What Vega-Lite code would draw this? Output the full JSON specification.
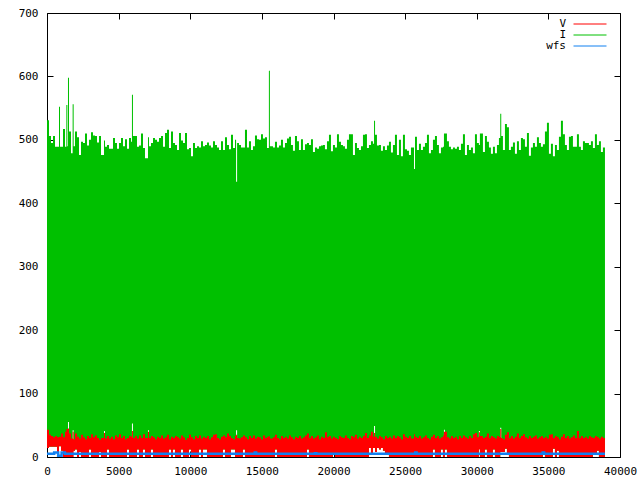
{"$schema":"https://vega.github.io/schema/vega-lite/v6.json","width":573,"height":444,"autosize":{"type":"none"},"padding":{"left":47,"top":13,"right":20,"bottom":23},"background":"white","config":{"view":{"stroke":"black","strokeWidth":1},"font":"DejaVu Sans Mono"},
"datasets":{"main":[
{"x":0,"i":531,"v":43,"lo":14,"g":14},{"x":140,"i":506,"v":35,"lo":16,"g":16},{"x":279,"i":495,"v":33,"lo":16,"g":16},{"x":419,"i":506,"v":31,"lo":16,"g":16},{"x":558,"i":489,"v":33,"lo":16,"g":16},{"x":698,"i":489,"v":31,"lo":5,"g":5},{"x":838,"i":552,"v":32,"lo":17,"g":17},{"x":908,"i":489,"v":32,"lo":17,"g":17},{"x":977,"i":489,"v":37,"lo":10,"g":10},{"x":1117,"i":517,"v":31,"lo":0,"g":0},{"x":1256,"i":489,"v":40,"lo":0,"g":0},{"x":1350,"i":555,"v":44,"lo":0,"g":0},{"x":1420,"i":490,"v":44,"lo":0,"g":0},{"x":1465,"i":598,"v":45,"lo":0,"g":55},{"x":1535,"i":513,"v":37,"lo":0,"g":0},{"x":1675,"i":479,"v":29,"lo":0,"g":0},{"x":1790,"i":556,"v":40,"lo":0,"g":42},{"x":1860,"i":490,"v":28,"lo":10,"g":10},{"x":1954,"i":513,"v":37,"lo":12,"g":12},{"x":2094,"i":504,"v":32,"lo":0,"g":0},{"x":2234,"i":476,"v":29,"lo":8,"g":8},{"x":2373,"i":497,"v":35,"lo":0,"g":0},{"x":2513,"i":495,"v":31,"lo":0,"g":0},{"x":2652,"i":510,"v":28,"lo":0,"g":0},{"x":2792,"i":491,"v":33,"lo":0,"g":0},{"x":2932,"i":500,"v":30,"lo":12,"g":12},{"x":3071,"i":512,"v":36,"lo":0,"g":0},{"x":3211,"i":507,"v":31,"lo":0,"g":0},{"x":3350,"i":506,"v":34,"lo":0,"g":0},{"x":3490,"i":496,"v":30,"lo":0,"g":0},{"x":3630,"i":506,"v":27,"lo":8,"g":8},{"x":3769,"i":476,"v":30,"lo":0,"g":0},{"x":3980,"i":499,"v":38,"lo":0,"g":41},{"x":4050,"i":489,"v":29,"lo":0,"g":0},{"x":4188,"i":492,"v":33,"lo":12,"g":12},{"x":4328,"i":486,"v":29,"lo":0,"g":0},{"x":4467,"i":486,"v":32,"lo":0,"g":0},{"x":4607,"i":503,"v":28,"lo":0,"g":0},{"x":4746,"i":495,"v":34,"lo":0,"g":0},{"x":4886,"i":486,"v":31,"lo":0,"g":0},{"x":5025,"i":495,"v":36,"lo":0,"g":0},{"x":5165,"i":503,"v":30,"lo":0,"g":0},{"x":5304,"i":490,"v":33,"lo":0,"g":0},{"x":5444,"i":501,"v":28,"lo":0,"g":0},{"x":5584,"i":486,"v":30,"lo":12,"g":12},{"x":5723,"i":503,"v":33,"lo":0,"g":0},{"x":5863,"i":497,"v":32,"lo":0,"g":0},{"x":5930,"i":571,"v":41,"lo":0,"g":53},{"x":6000,"i":506,"v":30,"lo":0,"g":0},{"x":6142,"i":506,"v":33,"lo":0,"g":0},{"x":6282,"i":489,"v":29,"lo":12,"g":12},{"x":6421,"i":491,"v":34,"lo":0,"g":0},{"x":6561,"i":510,"v":30,"lo":0,"g":0},{"x":6701,"i":487,"v":36,"lo":12,"g":12},{"x":6840,"i":471,"v":30,"lo":0,"g":0},{"x":7050,"i":504,"v":40,"lo":0,"g":42},{"x":7120,"i":490,"v":30,"lo":0,"g":0},{"x":7259,"i":495,"v":33,"lo":12,"g":12},{"x":7399,"i":503,"v":31,"lo":0,"g":0},{"x":7538,"i":500,"v":28,"lo":0,"g":0},{"x":7678,"i":497,"v":32,"lo":0,"g":0},{"x":7818,"i":503,"v":30,"lo":0,"g":0},{"x":7957,"i":506,"v":34,"lo":0,"g":0},{"x":8097,"i":489,"v":29,"lo":0,"g":0},{"x":8236,"i":511,"v":31,"lo":0,"g":0},{"x":8376,"i":516,"v":35,"lo":0,"g":0},{"x":8516,"i":487,"v":28,"lo":12,"g":12},{"x":8655,"i":513,"v":32,"lo":0,"g":0},{"x":8795,"i":495,"v":30,"lo":12,"g":12},{"x":8934,"i":492,"v":33,"lo":0,"g":0},{"x":9074,"i":484,"v":31,"lo":0,"g":0},{"x":9214,"i":511,"v":29,"lo":0,"g":0},{"x":9353,"i":499,"v":34,"lo":12,"g":12},{"x":9493,"i":495,"v":31,"lo":0,"g":0},{"x":9632,"i":511,"v":27,"lo":0,"g":0},{"x":9772,"i":485,"v":30,"lo":0,"g":0},{"x":9912,"i":487,"v":35,"lo":12,"g":12},{"x":10051,"i":474,"v":31,"lo":0,"g":0},{"x":10191,"i":495,"v":28,"lo":0,"g":0},{"x":10330,"i":487,"v":33,"lo":0,"g":0},{"x":10470,"i":490,"v":30,"lo":0,"g":0},{"x":10610,"i":488,"v":34,"lo":12,"g":12},{"x":10749,"i":498,"v":29,"lo":0,"g":0},{"x":10889,"i":490,"v":32,"lo":12,"g":12},{"x":11028,"i":492,"v":30,"lo":12,"g":12},{"x":11168,"i":496,"v":33,"lo":0,"g":0},{"x":11308,"i":491,"v":28,"lo":0,"g":0},{"x":11447,"i":488,"v":31,"lo":0,"g":0},{"x":11587,"i":498,"v":35,"lo":0,"g":0},{"x":11726,"i":492,"v":36,"lo":0,"g":0},{"x":11866,"i":488,"v":30,"lo":0,"g":0},{"x":12006,"i":484,"v":28,"lo":0,"g":0},{"x":12145,"i":498,"v":32,"lo":0,"g":0},{"x":12285,"i":484,"v":34,"lo":12,"g":12},{"x":12424,"i":504,"v":31,"lo":0,"g":0},{"x":12564,"i":492,"v":37,"lo":0,"g":0},{"x":12704,"i":485,"v":33,"lo":0,"g":0},{"x":12843,"i":508,"v":30,"lo":12,"g":12},{"x":12983,"i":487,"v":28,"lo":12,"g":12},{"x":13123,"i":500,"v":33,"lo":0,"g":0},{"x":13200,"i":434,"v":35,"lo":0,"g":42},{"x":13270,"i":495,"v":30,"lo":0,"g":0},{"x":13401,"i":492,"v":29,"lo":0,"g":0},{"x":13541,"i":488,"v":31,"lo":0,"g":0},{"x":13680,"i":488,"v":34,"lo":12,"g":12},{"x":13820,"i":516,"v":31,"lo":0,"g":0},{"x":13960,"i":488,"v":28,"lo":0,"g":0},{"x":14099,"i":498,"v":33,"lo":0,"g":0},{"x":14239,"i":484,"v":30,"lo":0,"g":0},{"x":14378,"i":490,"v":34,"lo":0,"g":0},{"x":14518,"i":507,"v":29,"lo":0,"g":0},{"x":14658,"i":501,"v":32,"lo":0,"g":0},{"x":14797,"i":500,"v":31,"lo":0,"g":0},{"x":14937,"i":509,"v":28,"lo":0,"g":0},{"x":15076,"i":502,"v":34,"lo":0,"g":0},{"x":15216,"i":504,"v":30,"lo":0,"g":0},{"x":15356,"i":487,"v":32,"lo":0,"g":0},{"x":15490,"i":609,"v":33,"lo":0,"g":0},{"x":15560,"i":490,"v":29,"lo":0,"g":0},{"x":15774,"i":488,"v":31,"lo":0,"g":0},{"x":15914,"i":497,"v":35,"lo":12,"g":12},{"x":16054,"i":488,"v":30,"lo":0,"g":0},{"x":16193,"i":491,"v":28,"lo":0,"g":0},{"x":16333,"i":500,"v":33,"lo":0,"g":0},{"x":16472,"i":488,"v":30,"lo":0,"g":0},{"x":16612,"i":495,"v":32,"lo":0,"g":0},{"x":16752,"i":502,"v":29,"lo":0,"g":0},{"x":16891,"i":505,"v":34,"lo":0,"g":0},{"x":17031,"i":492,"v":31,"lo":0,"g":0},{"x":17170,"i":483,"v":28,"lo":0,"g":0},{"x":17310,"i":506,"v":32,"lo":0,"g":0},{"x":17450,"i":498,"v":30,"lo":0,"g":0},{"x":17589,"i":484,"v":33,"lo":0,"g":0},{"x":17729,"i":501,"v":29,"lo":0,"g":0},{"x":17868,"i":484,"v":31,"lo":0,"g":0},{"x":18008,"i":493,"v":34,"lo":0,"g":0},{"x":18148,"i":495,"v":37,"lo":12,"g":12},{"x":18287,"i":492,"v":30,"lo":0,"g":0},{"x":18427,"i":501,"v":33,"lo":0,"g":0},{"x":18566,"i":481,"v":29,"lo":0,"g":0},{"x":18706,"i":488,"v":31,"lo":0,"g":0},{"x":18846,"i":486,"v":34,"lo":0,"g":0},{"x":18985,"i":490,"v":28,"lo":0,"g":0},{"x":19125,"i":491,"v":32,"lo":0,"g":0},{"x":19264,"i":492,"v":30,"lo":0,"g":0},{"x":19404,"i":485,"v":39,"lo":0,"g":0},{"x":19544,"i":498,"v":31,"lo":0,"g":0},{"x":19683,"i":508,"v":33,"lo":0,"g":0},{"x":19823,"i":482,"v":29,"lo":0,"g":0},{"x":19962,"i":492,"v":32,"lo":5,"g":5},{"x":20102,"i":488,"v":30,"lo":0,"g":0},{"x":20242,"i":509,"v":28,"lo":0,"g":0},{"x":20381,"i":497,"v":33,"lo":0,"g":0},{"x":20521,"i":492,"v":31,"lo":0,"g":0},{"x":20660,"i":490,"v":30,"lo":0,"g":0},{"x":20800,"i":486,"v":34,"lo":0,"g":0},{"x":20940,"i":500,"v":30,"lo":0,"g":0},{"x":21079,"i":509,"v":28,"lo":0,"g":0},{"x":21219,"i":509,"v":33,"lo":0,"g":0},{"x":21358,"i":476,"v":31,"lo":0,"g":0},{"x":21498,"i":495,"v":35,"lo":0,"g":0},{"x":21638,"i":487,"v":29,"lo":0,"g":0},{"x":21777,"i":484,"v":32,"lo":0,"g":0},{"x":21917,"i":490,"v":30,"lo":0,"g":0},{"x":22056,"i":508,"v":33,"lo":0,"g":0},{"x":22196,"i":509,"v":38,"lo":0,"g":0},{"x":22336,"i":487,"v":30,"lo":0,"g":0},{"x":22475,"i":492,"v":34,"lo":14,"g":14},{"x":22615,"i":498,"v":40,"lo":6,"g":6},{"x":22754,"i":494,"v":32,"lo":14,"g":14},{"x":22830,"i":530,"v":38,"lo":14,"g":49},{"x":22900,"i":508,"v":32,"lo":8,"g":8},{"x":23034,"i":491,"v":29,"lo":14,"g":14},{"x":23173,"i":492,"v":33,"lo":12,"g":12},{"x":23313,"i":483,"v":31,"lo":14,"g":14},{"x":23452,"i":490,"v":28,"lo":10,"g":10},{"x":23592,"i":484,"v":33,"lo":6,"g":6},{"x":23732,"i":491,"v":30,"lo":6,"g":6},{"x":23871,"i":497,"v":32,"lo":0,"g":0},{"x":24011,"i":480,"v":29,"lo":0,"g":0},{"x":24150,"i":492,"v":34,"lo":0,"g":0},{"x":24290,"i":508,"v":30,"lo":0,"g":0},{"x":24430,"i":476,"v":33,"lo":0,"g":0},{"x":24569,"i":500,"v":31,"lo":0,"g":0},{"x":24709,"i":474,"v":28,"lo":0,"g":0},{"x":24848,"i":508,"v":36,"lo":0,"g":0},{"x":24988,"i":485,"v":32,"lo":0,"g":0},{"x":25128,"i":483,"v":30,"lo":0,"g":0},{"x":25267,"i":476,"v":33,"lo":0,"g":0},{"x":25407,"i":488,"v":29,"lo":0,"g":0},{"x":25620,"i":454,"v":36,"lo":0,"g":0},{"x":25690,"i":505,"v":32,"lo":0,"g":0},{"x":25826,"i":484,"v":30,"lo":0,"g":0},{"x":25965,"i":494,"v":33,"lo":0,"g":0},{"x":26105,"i":484,"v":29,"lo":0,"g":0},{"x":26244,"i":489,"v":31,"lo":0,"g":0},{"x":26384,"i":495,"v":34,"lo":0,"g":0},{"x":26524,"i":508,"v":30,"lo":0,"g":0},{"x":26663,"i":479,"v":28,"lo":0,"g":0},{"x":26803,"i":484,"v":32,"lo":0,"g":0},{"x":26942,"i":500,"v":35,"lo":12,"g":12},{"x":27082,"i":506,"v":30,"lo":0,"g":0},{"x":27222,"i":492,"v":33,"lo":0,"g":0},{"x":27361,"i":479,"v":29,"lo":0,"g":0},{"x":27501,"i":488,"v":31,"lo":12,"g":12},{"x":27640,"i":489,"v":34,"lo":0,"g":0},{"x":27710,"i":510,"v":40,"lo":0,"g":43},{"x":27780,"i":510,"v":40,"lo":12,"g":12},{"x":27920,"i":498,"v":31,"lo":0,"g":0},{"x":28059,"i":489,"v":29,"lo":0,"g":0},{"x":28199,"i":485,"v":33,"lo":0,"g":0},{"x":28338,"i":488,"v":30,"lo":0,"g":0},{"x":28478,"i":486,"v":32,"lo":0,"g":0},{"x":28618,"i":489,"v":28,"lo":0,"g":0},{"x":28757,"i":484,"v":33,"lo":0,"g":0},{"x":28897,"i":494,"v":30,"lo":0,"g":0},{"x":29036,"i":509,"v":34,"lo":0,"g":0},{"x":29176,"i":476,"v":31,"lo":0,"g":0},{"x":29316,"i":492,"v":29,"lo":0,"g":0},{"x":29455,"i":484,"v":33,"lo":0,"g":0},{"x":29595,"i":488,"v":30,"lo":0,"g":0},{"x":29734,"i":479,"v":36,"lo":0,"g":0},{"x":29874,"i":509,"v":38,"lo":0,"g":0},{"x":30014,"i":495,"v":31,"lo":0,"g":0},{"x":30150,"i":492,"v":39,"lo":12,"g":41},{"x":30220,"i":510,"v":33,"lo":0,"g":0},{"x":30432,"i":481,"v":30,"lo":0,"g":0},{"x":30572,"i":506,"v":32,"lo":12,"g":12},{"x":30711,"i":497,"v":37,"lo":0,"g":0},{"x":30851,"i":488,"v":30,"lo":0,"g":0},{"x":30990,"i":478,"v":33,"lo":0,"g":0},{"x":31130,"i":489,"v":31,"lo":12,"g":12},{"x":31270,"i":479,"v":29,"lo":0,"g":0},{"x":31409,"i":492,"v":33,"lo":0,"g":0},{"x":31549,"i":503,"v":31,"lo":0,"g":0},{"x":31640,"i":541,"v":44,"lo":8,"g":46},{"x":31710,"i":506,"v":30,"lo":8,"g":8},{"x":31828,"i":484,"v":28,"lo":8,"g":8},{"x":31968,"i":525,"v":35,"lo":13,"g":13},{"x":32107,"i":520,"v":39,"lo":5,"g":5},{"x":32247,"i":484,"v":30,"lo":0,"g":0},{"x":32386,"i":489,"v":33,"lo":0,"g":0},{"x":32526,"i":496,"v":29,"lo":0,"g":0},{"x":32666,"i":478,"v":32,"lo":0,"g":0},{"x":32805,"i":498,"v":37,"lo":0,"g":0},{"x":32945,"i":484,"v":30,"lo":0,"g":0},{"x":33084,"i":503,"v":33,"lo":0,"g":0},{"x":33224,"i":501,"v":36,"lo":0,"g":0},{"x":33364,"i":489,"v":31,"lo":0,"g":0},{"x":33503,"i":511,"v":29,"lo":0,"g":0},{"x":33643,"i":475,"v":33,"lo":0,"g":0},{"x":33782,"i":488,"v":30,"lo":0,"g":0},{"x":33922,"i":495,"v":32,"lo":0,"g":0},{"x":34062,"i":489,"v":34,"lo":0,"g":0},{"x":34201,"i":504,"v":29,"lo":0,"g":0},{"x":34341,"i":495,"v":31,"lo":0,"g":0},{"x":34480,"i":489,"v":33,"lo":0,"g":0},{"x":34620,"i":493,"v":30,"lo":8,"g":8},{"x":34760,"i":513,"v":32,"lo":0,"g":0},{"x":34899,"i":527,"v":29,"lo":0,"g":0},{"x":35039,"i":478,"v":35,"lo":0,"g":0},{"x":35178,"i":494,"v":36,"lo":0,"g":0},{"x":35318,"i":474,"v":30,"lo":13,"g":13},{"x":35458,"i":492,"v":33,"lo":0,"g":0},{"x":35597,"i":484,"v":31,"lo":10,"g":10},{"x":35737,"i":505,"v":28,"lo":0,"g":0},{"x":35876,"i":530,"v":32,"lo":0,"g":0},{"x":36016,"i":509,"v":36,"lo":0,"g":0},{"x":36156,"i":492,"v":30,"lo":0,"g":0},{"x":36295,"i":484,"v":33,"lo":0,"g":0},{"x":36435,"i":505,"v":29,"lo":0,"g":0},{"x":36574,"i":506,"v":31,"lo":0,"g":0},{"x":36714,"i":489,"v":34,"lo":0,"g":0},{"x":36854,"i":489,"v":30,"lo":0,"g":0},{"x":36993,"i":509,"v":41,"lo":0,"g":0},{"x":37133,"i":489,"v":30,"lo":0,"g":0},{"x":37272,"i":484,"v":33,"lo":0,"g":0},{"x":37412,"i":498,"v":30,"lo":0,"g":0},{"x":37552,"i":495,"v":32,"lo":0,"g":0},{"x":37691,"i":495,"v":29,"lo":0,"g":0},{"x":37831,"i":492,"v":33,"lo":0,"g":0},{"x":37970,"i":498,"v":31,"lo":0,"g":0},{"x":38110,"i":487,"v":30,"lo":6,"g":6},{"x":38250,"i":509,"v":33,"lo":6,"g":6},{"x":38389,"i":492,"v":31,"lo":10,"g":10},{"x":38529,"i":498,"v":29,"lo":0,"g":0},{"x":38668,"i":481,"v":32,"lo":0,"g":0},{"x":38808,"i":488,"v":30,"lo":0,"g":0},{"x":38950,"i":497,"v":30,"lo":0,"g":0}
],"wfs":[
{"x":0,"w":5,"s":"wfs"},{"x":420,"w":5,"s":"wfs"},{"x":500,"w":7,"s":"wfs"},{"x":700,"w":7,"s":"wfs"},{"x":780,"w":2,"s":"wfs"},{"x":950,"w":2,"s":"wfs"},{"x":1020,"w":7,"s":"wfs"},{"x":1150,"w":7,"s":"wfs"},{"x":1250,"w":5,"s":"wfs"},{"x":14400,"w":5,"s":"wfs"},{"x":14500,"w":7,"s":"wfs"},{"x":14600,"w":5,"s":"wfs"},{"x":18600,"w":5,"s":"wfs"},{"x":18700,"w":6,"s":"wfs"},{"x":18800,"w":5,"s":"wfs"},{"x":25600,"w":5,"s":"wfs"},{"x":25700,"w":7,"s":"wfs"},{"x":25800,"w":5,"s":"wfs"},{"x":34500,"w":5,"s":"wfs"},{"x":34600,"w":7,"s":"wfs"},{"x":34700,"w":5,"s":"wfs"},{"x":38950,"w":5,"s":"wfs"}
]},
"layer":[
{"data":{"name":"main"},"mark":{"type":"area","interpolate":"step-after","color":"#00c000"},"encoding":{"x":{"field":"x","type":"quantitative","scale":{"domain":[0,40000],"nice":false},"axis":{"orient":"bottom","values":[0,5000,10000,15000,20000,25000,30000,35000,40000],"format":"d","title":null,"grid":false,"domain":false,"tickSize":-6,"tickColor":"black","labelFontSize":11,"labelFont":"DejaVu Sans Mono","labelColor":"black","labelPadding":14,"labelFlush":false}},"y":{"field":"i","type":"quantitative","scale":{"domain":[0,700],"nice":false},"axis":{"orient":"left","values":[0,100,200,300,400,500,600,700],"title":null,"grid":false,"domain":false,"tickSize":-6,"tickColor":"black","labelFontSize":11,"labelFont":"DejaVu Sans Mono","labelColor":"black","labelPadding":15}},"y2":{"field":"g"}}},
{"data":{"name":"main"},"mark":{"type":"area","interpolate":"step-after","color":"#ff0000"},"encoding":{"x":{"field":"x","type":"quantitative","axis":{"orient":"top","values":[0,5000,10000,15000,20000,25000,30000,35000,40000],"title":null,"grid":false,"domain":false,"labels":false,"tickSize":-6,"tickColor":"black"}},"y":{"field":"v","type":"quantitative","axis":{"orient":"right","values":[0,100,200,300,400,500,600,700],"title":null,"grid":false,"domain":false,"labels":false,"tickSize":-6,"tickColor":"black"}},"y2":{"field":"lo"}}},
{"data":{"name":"wfs"},"mark":{"type":"line","interpolate":"step-after","strokeWidth":2.5},"encoding":{"x":{"field":"x","type":"quantitative","axis":null},"y":{"field":"w","type":"quantitative","axis":null},"color":{"field":"s","type":"nominal","scale":{"domain":["V","I","wfs"],"range":["#ff0000","#00c000","#1080f0"]},"legend":{"title":null,"orient":"none","legendX":537,"legendY":5,"symbolType":"M-3,0H3","symbolSize":121,"symbolStrokeWidth":1,"labelAlign":"right","labelOffset":-30,"labelFontSize":11,"labelFont":"DejaVu Sans Mono","labelColor":"black","rowPadding":0}}}}
],
"resolve":{"axis":{"x":"independent","y":"independent"}}}
